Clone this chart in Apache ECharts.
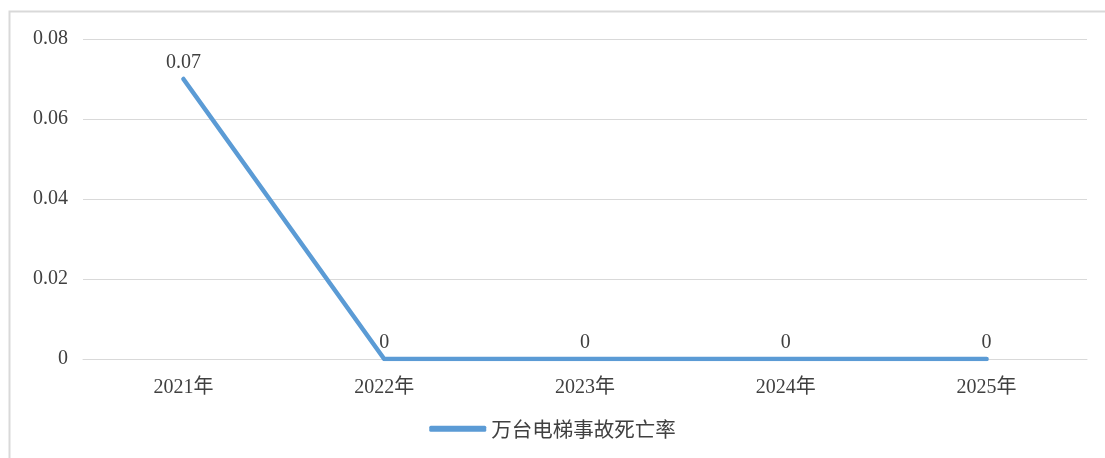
<!DOCTYPE html>
<html>
<head>
<meta charset="utf-8">
<script src="https://cdn.jsdelivr.net/npm/echarts@6/dist/echarts.min.js"></script>
<style>
html,body{margin:0;padding:0;background:#fff;}
#chart{width:1105px;height:458px;}
</style>
</head>
<body>
<div id="chart"></div>
<script>
var categories = ['2021年', '2022年', '2023年', '2024年', '2025年'];
var seriesName = '万台电梯事故死亡率';
var values = [0.07, 0, 0, 0, 0];
var yTicks = [0, 0.02, 0.04, 0.06, 0.08];

var serif = '"Liberation Serif", "Times New Roman", "Noto Sans CJK SC", serif';
var chart = echarts.init(document.getElementById('chart'));
chart.setOption({
  animation: false,
  backgroundColor: '#fff',
  graphic: [{
    type: 'rect',
    left: 7, top: 9,
    shape: { width: 1120, height: 480 },
    style: { fill: 'none', stroke: '#d9d9d9', lineWidth: 2 },
    silent: true, z: -1
  }],
  grid: { left: 83, right: 18, top: 39, bottom: 99 },
  legend: {
    bottom: 14,
    left: 'center',
    data: [seriesName],
    icon: 'roundRect',
    itemWidth: 57,
    itemHeight: 6,
    itemGap: 8,
    textStyle: { fontFamily: '"Noto Sans CJK SC", sans-serif', fontSize: 20.5, color: '#404040', padding: [0, 0, 0, 0] }
  },
  xAxis: {
    type: 'category',
    data: categories,
    boundaryGap: true,
    axisLine: { lineStyle: { color: '#d9d9d9', width: 1 } },
    axisTick: { show: false },
    axisLabel: { margin: 19, fontFamily: serif, fontSize: 20, color: '#404040' }
  },
  yAxis: {
    type: 'value',
    min: yTicks[0],
    max: yTicks[yTicks.length - 1],
    interval: 0.02,
    axisLine: { show: false },
    axisTick: { show: false },
    splitLine: { lineStyle: { color: '#d9d9d9', width: 1 } },
    axisLabel: {
      margin: 15,
      padding: [3, 0, 0, 0],
      fontFamily: serif, fontSize: 20, color: '#404040',
      formatter: function (v) { return v === 0 ? '0' : v.toFixed(2); }
    }
  },
  series: [{
    name: seriesName,
    type: 'line',
    data: values,
    symbol: 'circle',
    symbolSize: 0.1,
    showSymbol: true,
    lineStyle: { color: '#5b9bd5', width: 4.5, cap: 'round', join: 'round' },
    itemStyle: { color: '#5b9bd5' },
    label: {
      show: true,
      position: 'top',
      distance: 6,
      fontFamily: serif, fontSize: 20, color: '#404040',
      formatter: function (p) { return p.value === 0 ? '0' : String(p.value); }
    }
  }]
});
</script>
</body>
</html>
